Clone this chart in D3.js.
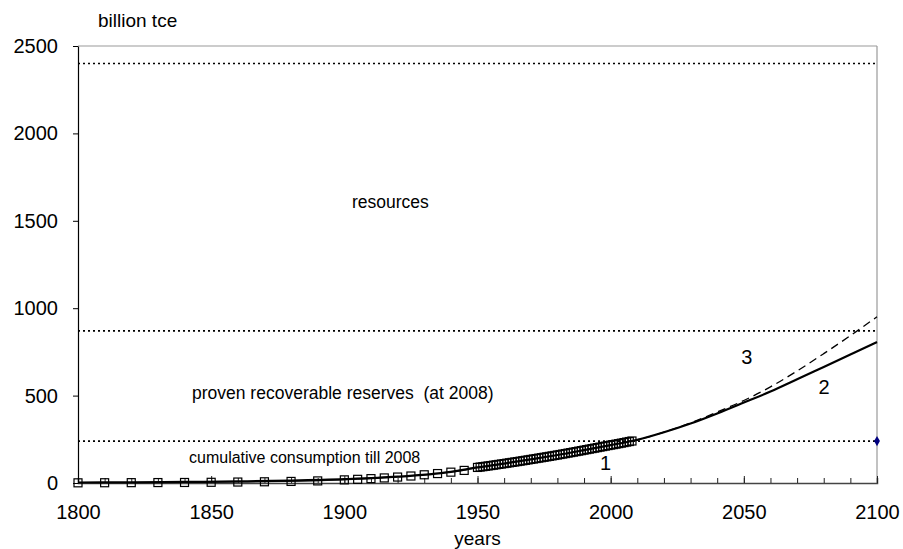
<!DOCTYPE html>
<html>
<head>
<meta charset="utf-8">
<script src="https://cdn.jsdelivr.net/npm/d3@7"></script>
<style>
body { margin: 0; background: #fff; }
text { font-family: "Liberation Sans", Arial, sans-serif; fill: #000; white-space: pre; }
</style>
</head>
<body>
<div id="chart-area"></div>
<script>
// Dane
var consYears = [1800, 1810, 1820, 1830, 1840, 1850, 1860, 1870, 1880, 1890,
	1900, 1905, 1910, 1915, 1920, 1925, 1930, 1935, 1940, 1945,
	1950, 1951, 1952, 1953, 1954, 1955, 1956, 1957, 1958, 1959,
	1960, 1961, 1962, 1963, 1964, 1965, 1966, 1967, 1968, 1969,
	1970, 1971, 1972, 1973, 1974, 1975, 1976, 1977, 1978, 1979,
	1980, 1981, 1982, 1983, 1984, 1985, 1986, 1987, 1988, 1989,
	1990, 1991, 1992, 1993, 1994, 1995, 1996, 1997, 1998, 1999,
	2000, 2001, 2002, 2003, 2004, 2005, 2006, 2007, 2008];
var consValues = [1, 1.5, 2, 2.5, 3, 4, 5.5, 7, 9, 12,
	18, 21, 25, 29, 34, 40, 47, 54, 62, 72,
	89, 91.2, 93.3, 95.5, 97.6, 99.8, 102.0, 104.2, 106.4, 108.7,
	111.0, 113.3, 115.6, 117.9, 120.3, 122.6, 125.0, 127.4, 129.8, 132.3,
	134.8, 137.3, 139.8, 142.3, 144.8, 147.3, 149.8, 152.4, 155.0, 157.6,
	160.2, 162.9, 165.6, 168.3, 171.1, 173.9, 176.7, 179.5, 182.3, 185.1,
	188.0, 190.9, 193.8, 196.7, 199.5, 202.4, 205.3, 208.2, 211.1, 214.0,
	216.9, 219.6, 222.4, 225.2, 228.1, 231.1, 234.1, 237.2, 240.3];

var model2Years = [1800, 1820, 1840, 1860, 1880, 1900, 1920, 1940, 1950, 1960, 1970, 1980, 1990, 2000, 2008,
	2010, 2020, 2030, 2040, 2050, 2060, 2070, 2080, 2090, 2100];
var model2Values = [3, 4, 6, 9, 14, 22, 36, 64, 89, 111, 135, 160, 188, 217, 240,
	247, 290, 340, 398, 460, 523, 593, 664, 735, 806];

var model3Years = [2008, 2010, 2020, 2030, 2040, 2050, 2060, 2070, 2080, 2090, 2100];
var model3Values = [240, 247, 291, 344, 406, 472, 550, 641, 740, 843, 951];

var levelValues = [2400, 870, 240];
var levelNames = ["resources", "proven recoverable reserves  (at 2008)", "cumulative consumption till 2008"];

var markerYear = 2100, markerValue = 240;

var xTicks = [1800, 1850, 1900, 1950, 2000, 2050, 2100];
var yTicks = [0, 500, 1000, 1500, 2000, 2500];

// Obszar wykresu
var margin = { left: 78, right: 26, top: 46, bottom: 66 };
var width = 903 - margin.left - margin.right;
var height = 549 - margin.top - margin.bottom;

var svg = d3.select("#chart-area")
	.append("svg")
	.attr("width", 903)
	.attr("height", 549);

var g = svg.append("g")
	.attr("transform", "translate(" + margin.left + "," + margin.top + ")");

// Skale
var x = d3.scaleLinear().domain([1800, 2100]).range([0, width]);
var y = d3.scaleLinear().domain([0, 2500]).range([height, 0]);

// Ramka
g.append("line").attr("x1", 0).attr("x2", width).attr("y1", 0).attr("y2", 0)
	.attr("stroke", "#999").attr("stroke-width", 1.2);
g.append("line").attr("x1", width).attr("x2", width).attr("y1", 0).attr("y2", height)
	.attr("stroke", "#999").attr("stroke-width", 1.2);

// Poziomy (linie kropkowane)
g.selectAll(".level")
	.data(levelValues)
	.enter().append("line")
	.attr("class", "level")
	.attr("x1", 0).attr("x2", width)
	.attr("y1", d => y(d)).attr("y2", d => y(d))
	.attr("stroke", "#000")
	.attr("stroke-width", 1.7)
	.attr("stroke-dasharray", "2,3");

// Osie
var minorTicks = d3.range(1800, 2101, 10);
g.append("g")
	.attr("transform", "translate(0," + height + ")")
	.call(d3.axisBottom(x).tickValues(minorTicks).tickSize(-5).tickFormat(""))
	.call(a => a.select(".domain").attr("stroke", "#444").attr("stroke-width", 1.5))
	.call(a => a.selectAll(".tick line").attr("stroke", "#222"));

g.append("g")
	.attr("transform", "translate(0," + height + ")")
	.call(d3.axisBottom(x).tickValues(xTicks).tickSize(-7).tickPadding(22).tickFormat(d3.format("d")))
	.call(a => a.select(".domain").remove())
	.call(a => a.selectAll(".tick line").attr("stroke", "#222"))
	.call(a => a.selectAll("text").attr("font-size", "20px").attr("fill", "#000"));

g.append("g")
	.call(d3.axisLeft(y).tickValues(yTicks).tickSize(5).tickPadding(15).tickSizeOuter(0).tickFormat(d3.format("d")))
	.call(a => a.select(".domain").attr("stroke", "#000").attr("stroke-width", 1.2))
	.call(a => a.selectAll("text").attr("font-size", "20px").attr("fill", "#000"));

// Etykiety
svg.append("text").attr("x", 98).attr("y", 27).attr("font-size", "19px").text("billion tce");
g.append("text").attr("x", width / 2).attr("y", height + 62)
	.attr("text-anchor", "middle").attr("font-size", "19px").text("years");

var levelLabelPos = [[274, 162], [114, 353], [111, 417]];
var levelLabelSize = ["17.5px", "17.5px", "16px"];
g.selectAll(".level-label")
	.data(levelNames)
	.enter().append("text")
	.attr("class", "level-label")
	.attr("x", (d, i) => levelLabelPos[i][0])
	.attr("y", (d, i) => levelLabelPos[i][1])
	.attr("font-size", (d, i) => levelLabelSize[i])
	.text(d => d);

// Serie
var cons = consYears.map((d, i) => ({ year: d, value: consValues[i] }));
var m2 = model2Years.map((d, i) => ({ year: d, value: model2Values[i] }));
var m3 = model3Years.map((d, i) => ({ year: d, value: model3Values[i] }));

var line = d3.line().x(d => x(d.year)).y(d => y(d.value)).curve(d3.curveMonotoneX);

g.append("path").datum(m3).attr("d", line)
	.attr("fill", "none").attr("stroke", "#000").attr("stroke-width", 1.3)
	.attr("stroke-dasharray", "8,5");

g.append("path").datum(cons).attr("d", line)
	.attr("fill", "none").attr("stroke", "#333").attr("stroke-width", 1);

g.selectAll(".sq")
	.data(cons)
	.enter().append("rect")
	.attr("class", "sq")
	.attr("x", d => x(d.year) - 4)
	.attr("y", d => y(d.value) - 4)
	.attr("width", 8).attr("height", 8)
	.attr("fill", "none")
	.attr("stroke", "#000").attr("stroke-width", 1.2);

g.append("path").datum(m2).attr("d", line)
	.attr("fill", "none").attr("stroke", "#000").attr("stroke-width", 2.2);

g.append("path")
	.attr("d", d3.symbol().type(d3.symbolDiamond).size(30))
	.attr("transform", "translate(" + x(markerYear) + "," + y(markerValue) + ")")
	.attr("fill", "#000080");

// Numery krzywych
var curveLabels = [["1", 1996, 75], ["2", 2078, 510], ["3", 2049, 680]];
g.selectAll(".num")
	.data(curveLabels)
	.enter().append("text")
	.attr("class", "num")
	.attr("x", d => x(d[1]))
	.attr("y", d => y(d[2]))
	.attr("font-size", "20px")
	.text(d => d[0]);
</script>
</body>
</html>
